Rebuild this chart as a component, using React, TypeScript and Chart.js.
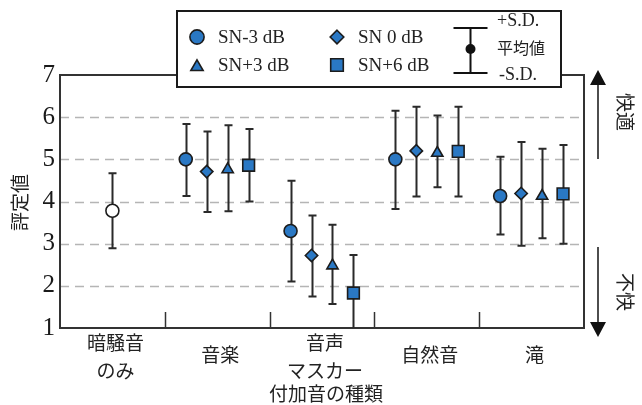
import React, { useEffect, useRef } from "react";
import { Chart, registerables } from "chart.js";

Chart.register(...registerables);

// ---------- data ----------
const categories: string[][] = [["暗騒音", "のみ"], ["音楽"], ["音声", "マスカー"], ["自然音"], ["滝"]];
const yTicks = [1, 2, 3, 4, 5, 6, 7];
const xTitle = "付加音の種類";
const yTitle = "評定値";
const upLabel = "快適";
const downLabel = "不快";
const sdLabels = ["+S.D.", "平均値", "-S.D."];

// background noise only (category 0)
const bgCats = [0];
const bgMean = [3.78];
const bgHigh = [4.67];
const bgLow = [2.89];

// masker series (categories 1..4)
const seriesNames = ["SN-3 dB", "SN 0 dB", "SN+3 dB", "SN+6 dB"];
const seriesCats = [1, 2, 3, 4];
const snM3Mean = [5.0, 3.3, 5.0, 4.13];
const snM3High = [5.84, 4.49, 6.15, 5.06];
const snM3Low = [4.13, 2.1, 3.82, 3.22];
const sn0Mean = [4.71, 2.72, 5.2, 4.19];
const sn0High = [5.66, 3.67, 6.25, 5.41];
const sn0Low = [3.75, 1.75, 4.12, 2.95];
const snP3Mean = [4.76, 2.48, 5.15, 4.13];
const snP3High = [5.81, 3.45, 6.04, 5.25];
const snP3Low = [3.77, 1.57, 4.34, 3.13];
const snP6Mean = [4.86, 1.83, 5.19, 4.18];
const snP6High = [5.72, 2.73, 6.25, 5.34];
const snP6Low = [4.0, 0.9, 4.12, 3.0];

// ---------- styles ----------
const BLUE = "#2a78c4";
const EDGE = "#1c1c1c";
const DARK = "#2a2a2a";
const SERIF = "'Liberation Serif', 'Times New Roman', serif";
const CJK = "'Noto Sans CJK JP', 'Noto Sans', sans-serif";
const offsets = [-0.3, -0.1, 0.1, 0.3];
const styles = ["circle", "rectRot", "triangle", "rect"];
const radii = [6.5, 6.2, 6.5, 8.3];

const means = [snM3Mean, sn0Mean, snP3Mean, snP6Mean];
const highs = [snM3High, sn0High, snP3High, snP6High];
const lows = [snM3Low, sn0Low, snP3Low, snP6Low];

function drawMarker(ctx: CanvasRenderingContext2D, style: string, x: number, y: number, r: number) {
  ctx.beginPath();
  if (style === "circle") {
    ctx.arc(x, y, r, 0, Math.PI * 2);
  } else if (style === "rectRot") {
    ctx.moveTo(x, y - r);
    ctx.lineTo(x + r, y);
    ctx.lineTo(x, y + r);
    ctx.lineTo(x - r, y);
    ctx.closePath();
  } else if (style === "triangle") {
    const w = r * Math.sin(Math.PI / 3);
    ctx.moveTo(x, y - r);
    ctx.lineTo(x + w, y + r / 2);
    ctx.lineTo(x - w, y + r / 2);
    ctx.closePath();
  } else {
    const s = r * Math.SQRT1_2;
    ctx.rect(x - s, y - s, 2 * s, 2 * s);
  }
  ctx.fill();
  ctx.stroke();
}

const overlayPlugin = {
  id: "overlay",
  beforeDatasetsDraw(chart: any) {
    const { ctx, chartArea: a, scales } = chart;
    const ys = scales.y;
    const xs = scales.x;
    ctx.save();
    // dashed grid
    ctx.strokeStyle = "#b5b5b5";
    ctx.lineWidth = 1.6;
    ctx.setLineDash([9, 6]);
    yTicks.forEach((v) => {
      if (v === yTicks[0] || v === yTicks[yTicks.length - 1]) return;
      const py = Math.round(ys.getPixelForValue(v)) + 0.5;
      ctx.beginPath();
      ctx.moveTo(a.left, py);
      ctx.lineTo(a.right, py);
      ctx.stroke();
    });
    ctx.setLineDash([]);
    // category boundary ticks
    ctx.strokeStyle = "#333";
    ctx.lineWidth = 1.5;
    for (let i = 0; i < categories.length - 1; i++) {
      const px = Math.round(xs.getPixelForValue(i + 0.5)) + 0.5;
      ctx.beginPath();
      ctx.moveTo(px, a.bottom);
      ctx.lineTo(px, a.bottom - 16);
      ctx.stroke();
    }
    // frame
    ctx.lineWidth = 2;
    ctx.strokeRect(a.left, a.top, a.right - a.left, a.bottom - a.top);
    // error bars
    ctx.save();
    ctx.beginPath();
    ctx.rect(a.left, a.top - 2, a.right - a.left, a.bottom - a.top + 2);
    ctx.clip();
    ctx.strokeStyle = DARK;
    ctx.lineWidth = 2;
    chart.data.datasets.forEach((ds: any, di: number) => {
      const meta = chart.getDatasetMeta(di);
      meta.data.forEach((el: any, i: number) => {
        const hi = ys.getPixelForValue(ds.errHigh[i]);
        const lo = ys.getPixelForValue(ds.errLow[i]);
        const x = Math.round(el.x) + 0.5;
        ctx.beginPath();
        ctx.moveTo(x, hi);
        ctx.lineTo(x, lo);
        ctx.moveTo(x - 4, hi);
        ctx.lineTo(x + 4, hi);
        ctx.moveTo(x - 4, lo);
        ctx.lineTo(x + 4, lo);
        ctx.stroke();
      });
    });
    ctx.restore();
    ctx.restore();
  },
  afterDraw(chart: any) {
    const { ctx, chartArea: a, scales } = chart;
    const xs = scales.x;
    ctx.save();
    ctx.fillStyle = "#222";
    // x category labels
    ctx.font = `19px ${CJK}`;
    ctx.textAlign = "center";
    ctx.textBaseline = "middle";
    categories.forEach((lines, i) => {
      const cx = xs.getPixelForValue(i) + 3;
      if (lines.length === 1) {
        ctx.fillText(lines[0], cx, a.bottom + 27);
      } else {
        lines.forEach((ln, j) => ctx.fillText(ln, cx, a.bottom + 15 + j * 28));
      }
    });
    // x title
    ctx.fillText(xTitle, (a.left + a.right) / 2 + 4, a.bottom + 66);
    // y title
    ctx.save();
    ctx.translate(20, (a.top + a.bottom) / 2 + 1);
    ctx.rotate(-Math.PI / 2);
    ctx.fillText(yTitle, 0, 0);
    ctx.restore();
    // right side texts
    ctx.save();
    ctx.translate(a.right + 41, a.top + 37);
    ctx.rotate(Math.PI / 2);
    ctx.fillText(upLabel, 0, 0);
    ctx.restore();
    ctx.save();
    ctx.translate(a.right + 41, a.bottom - 36);
    ctx.rotate(Math.PI / 2);
    ctx.fillText(downLabel, 0, 0);
    ctx.restore();
    // arrows
    const ax = a.right + 14;
    ctx.strokeStyle = "#222";
    ctx.fillStyle = "#111";
    ctx.lineWidth = 1.6;
    ctx.beginPath();
    ctx.moveTo(ax, a.top + 84);
    ctx.lineTo(ax, a.top + 8);
    ctx.moveTo(ax, a.bottom - 81);
    ctx.lineTo(ax, a.bottom - 5);
    ctx.stroke();
    ctx.beginPath();
    ctx.moveTo(ax, a.top - 5);
    ctx.lineTo(ax + 8, a.top + 10);
    ctx.lineTo(ax - 8, a.top + 10);
    ctx.closePath();
    ctx.fill();
    ctx.beginPath();
    ctx.moveTo(ax, a.bottom + 9);
    ctx.lineTo(ax + 8, a.bottom - 6);
    ctx.lineTo(ax - 8, a.bottom - 6);
    ctx.closePath();
    ctx.fill();

    // legend box
    const lx = 177, ly = 11, lw = 384, lh = 76;
    ctx.fillStyle = "#fff";
    ctx.fillRect(lx, ly, lw, lh);
    ctx.strokeStyle = "#1a1a1a";
    ctx.lineWidth = 2;
    ctx.strokeRect(lx, ly, lw, lh);
    const itemPos = [
      [197, 37],
      [337, 37],
      [197, 65],
      [337, 65],
    ];
    seriesNames.forEach((name, s) => {
      const [px, py] = itemPos[s];
      ctx.fillStyle = BLUE;
      ctx.strokeStyle = EDGE;
      ctx.lineWidth = 1.6;
      drawMarker(ctx, styles[s], px, py + (styles[s] === "triangle" ? 2 : 0), radii[s] + 0.6);
      ctx.fillStyle = "#222";
      ctx.font = `19px ${SERIF}`;
      ctx.textAlign = "left";
      ctx.textBaseline = "middle";
      ctx.fillText(name, px + 21, py + 1);
    });
    // S.D. sample
    const sx = 470.5;
    ctx.strokeStyle = "#111";
    ctx.lineWidth = 2;
    ctx.beginPath();
    ctx.moveTo(sx, 28);
    ctx.lineTo(sx, 73);
    ctx.moveTo(sx - 17, 28);
    ctx.lineTo(sx + 17, 28);
    ctx.moveTo(sx - 17, 73);
    ctx.lineTo(sx + 17, 73);
    ctx.stroke();
    ctx.fillStyle = "#111";
    ctx.beginPath();
    ctx.arc(sx, 49, 5, 0, Math.PI * 2);
    ctx.fill();
    ctx.fillStyle = "#222";
    ctx.textAlign = "left";
    ctx.textBaseline = "middle";
    ctx.font = `18px ${SERIF}`;
    ctx.fillText(sdLabels[0], 497, 21);
    ctx.fillText(sdLabels[2], 499, 75);
    ctx.font = `16px ${CJK}`;
    ctx.fillText(sdLabels[1], 497, 48);
    ctx.restore();
  },
};

export default function App() {
  const ref = useRef<HTMLCanvasElement | null>(null);
  useEffect(() => {
    if (!ref.current) return;
    const datasets: any[] = [
      {
        label: "暗騒音のみ",
        data: bgCats.map((c, i) => ({ x: c, y: bgMean[i] })),
        errHigh: bgHigh,
        errLow: bgLow,
        pointStyle: "circle",
        pointRadius: 6.5,
        pointBackgroundColor: "#ffffff",
        pointBorderColor: EDGE,
        pointBorderWidth: 1.6,
        showLine: false,
      },
    ];
    seriesNames.forEach((name, s) => {
      datasets.push({
        label: name,
        data: seriesCats.map((c, i) => ({ x: c + offsets[s], y: means[s][i] })),
        errHigh: highs[s],
        errLow: lows[s],
        pointStyle: styles[s],
        pointRadius: radii[s],
        pointBackgroundColor: BLUE,
        pointBorderColor: EDGE,
        pointBorderWidth: 1.6,
        showLine: false,
      });
    });
    const chart = new Chart(ref.current, {
      type: "scatter",
      data: { datasets },
      options: {
        animation: false,
        responsive: false,
        devicePixelRatio: 1,
        layout: { padding: { left: 0, top: 75, right: 58, bottom: 77 } },
        plugins: { legend: { display: false }, tooltip: { enabled: false } },
        scales: {
          x: { type: "linear", min: -0.5, max: categories.length - 0.5, display: false },
          y: {
            type: "linear",
            min: yTicks[0],
            max: yTicks[yTicks.length - 1],
            afterFit: (s: any) => {
              s.width = 60;
            },
            afterBuildTicks: (s: any) => {
              s.ticks = yTicks.map((v) => ({ value: v }));
            },
            ticks: {
              color: "#1a1a1a",
              padding: 5,
              font: { family: SERIF, size: 25 },
            },
            grid: { display: false, drawTicks: false },
            border: { display: false },
          },
        },
      },
      plugins: [overlayPlugin],
    } as any);
    return () => chart.destroy();
  }, []);
  return (
    <div style={{ position: "absolute", left: 0, top: 0, width: 642, height: 405, background: "#fff" }}>
      <canvas ref={ref} width={642} height={405} />
    </div>
  );
}
